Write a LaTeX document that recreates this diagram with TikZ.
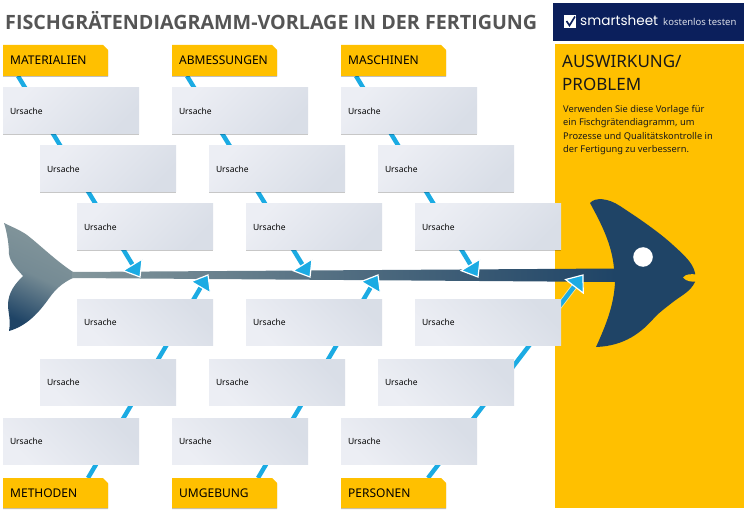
\documentclass[tikz,border=0pt]{standalone}
\usepackage{fontspec}
\setmainfont{Noto Sans}
\newfontfamily\logofont{Poppins}
\newfontfamily\titlefont{Open Sans}
\usetikzlibrary{arrows.meta,shadows,calc}
\definecolor{gold}{HTML}{FFC000}
\definecolor{navy}{HTML}{0B1F5C}
\definecolor{fishblue}{HTML}{1F4466}
\definecolor{tailgrey}{HTML}{84979C}
\definecolor{bonecol}{HTML}{1BABE3}
\definecolor{boxlight}{HTML}{ECEEF4}
\definecolor{boxdark}{HTML}{D9DEE7}
\definecolor{titlegrey}{HTML}{555555}
\tikzset{
  px/.style={x=1pt,y=-1pt},
  causebox/.style={minimum width=136pt,minimum height=46pt,inner sep=0pt,inner xsep=7pt,
    text width=122pt,align=left,font=\fontsize{8.5}{11}\selectfont,text=black,
    drop shadow={shadow xshift=0pt,shadow yshift=-1.2pt,fill=black,opacity=.22}},
  causewide/.style={causebox,minimum width=146pt,text width=132pt},
  boxtop/.style={top color=boxlight,bottom color=boxdark,shading angle=45},
  boxbot/.style={top color=boxdark,bottom color=boxlight,shading angle=-45},
  heading/.style={font=\fontsize{12}{14}\selectfont,text=black,anchor=base west,inner sep=0pt},
  tab/.style={fill=gold,drop shadow={shadow xshift=0pt,shadow yshift=-1pt,fill=black,opacity=.25}},
  bonehalo/.style={draw=white,line width=6pt,opacity=.6},
  bone/.style={draw=bonecol,line width=4.4pt},
  bonetip/.style={fill=bonecol,draw=white,line width=1.2pt,line join=miter},
}
\begin{document}
\begin{tikzpicture}[px]
\useasboundingbox (0,0) rectangle (746,510);
\fill[white] (0,0) rectangle (746,510);
% title
\node[anchor=base west,inner sep=0pt,font=\titlefont\fontsize{19.7}{22}\selectfont\bfseries,text=titlegrey] (title) at (5,30) {FISCHGRÄTENDIAGRAMM-VORLAGE IN DER FERTIGUNG};
% logo banner
\fill[navy] (553,3) rectangle (744,41);
\fill[white] (564,15) rectangle (576,28);
\draw[navy,line width=1.6pt] (566.5,21) -- (569.5,25.5) -- (575,16.5);
\node[anchor=base west,inner sep=0pt,font=\logofont\fontsize{13.6}{16}\selectfont,text=white] (brand) at (580,26) {smartsheet};
\node[anchor=base west,inner sep=0pt,font=\fontsize{9.5}{10}\selectfont,text=white!85!navy] (trial) at (663,26) {kostenlos testen};
% effect panel
\fill[gold] (555,44) rectangle (744,508);
\node[anchor=north west,inner sep=0pt,font=\fontsize{17}{23.5}\selectfont,align=left,text=black!90] (effect) at (562,54.5) {AUSWIRKUNG/\\PROBLEM};
\node[anchor=north west,inner sep=0pt,font=\fontsize{9.3}{13.1}\selectfont,align=left,text=black!90] (desc) at (563,105.5) {Verwenden Sie diese Vorlage für\\ein Fischgrätendiagramm, um\\Prozesse und Qualitätskontrolle in\\der Fertigung zu verbessern.};
% tail
\path[top color=tailgrey,bottom color=fishblue,shading angle=-25,middle color=tailgrey!85!fishblue]
  (4,223) .. controls (12,227) and (20,230) .. (27,235)
  .. controls (40,245) and (55,260) .. (73,272) -- (73,278)
  .. controls (62,283) and (55,290) .. (50,297)
  .. controls (42,308) and (30,325) .. (9,331)
  .. controls (11,320) and (8,312) .. (8,305)
  .. controls (8,292) and (16,283) .. (23,276)
  .. controls (16,268) and (10,262) .. (9,254)
  .. controls (9,245) and (7,232) .. (4,223) -- cycle;
% spine
\path[left color=tailgrey,right color=fishblue] (72,272) -- (615,268.5) -- (615,282) -- (72,278) -- cycle;
% head
\fill[fishblue] (590,203) .. controls (595,197) and (608,198) .. (620,206)
  .. controls (640,219) and (660,233) .. (673,245)
  .. controls (684,255) and (693,263) .. (695,273)
  -- (695,282)
  .. controls (690,292) and (682,295) .. (673,302)
  .. controls (664,309) and (660,312) .. (655,317)
  .. controls (642,332) and (625,346) .. (596,347)
  .. controls (606,325) and (614,305) .. (615,282)
  -- (614,268.5)
  .. controls (612,245) and (602,225) .. (590,203) -- cycle;
\fill[white] (643,257) circle (9.8);
\fill[gold] (683,277.5) .. controls (686,273.5) and (692,274) .. (696,274.5) -- (696,281.5) .. controls (692,282) and (686,281.5) .. (683,277.5) -- cycle;
% bones
\foreach \n/\sx/\sy/\tx/\ty in {a/18/76/140/277,b/187/76/310/277,c/356/76/478/277,d/88/478/208/275,e/258/478/378/275,f/428/478/583/275}{
  \coordinate (s\n) at (\sx,\sy);
  \coordinate (t\n) at (\tx,\ty);
  \draw[bonehalo] (s\n) -- ($(t\n)!10pt!(s\n)$);
  \draw[bone] (s\n) -- ($(t\n)!10pt!(s\n)$);
  \draw[bonetip] (t\n) -- ($(t\n)!18pt!38:(s\n)$) -- ($(t\n)!18pt!-38:(s\n)$) -- cycle;
}
% top cause boxes
\foreach \n/\cx/\cy in {a1/71/111,a2/240/111,a3/409/111,b1/108/169,b2/277/169,b3/446/169,c1/145/227,c2/314/227}{
  \node[causebox,boxtop] (\n) at (\cx,\cy) {Ursache};
}
\node[causewide,boxtop] (c3) at (488,227) {Ursache};
% bottom cause boxes
\foreach \n/\cx/\cy in {d1/145,d2/314}{
  \node[causebox,boxbot] (\n) at (\cx,322) {Ursache};
}
\node[causewide,boxbot] (d3) at (488,322) {Ursache};
\foreach \n/\cx in {e1/108,e2/277,e3/446}{
  \node[causebox,boxbot] (\n) at (\cx,382) {Ursache};
}
\foreach \n/\cx in {f1/71,f2/240,f3/409}{
  \node[causebox,boxbot] (\n) at (\cx,441) {Ursache};
}
% category tabs
\foreach \n/\x/\label in {ha/3/MATERIALIEN,hb/172/ABMESSUNGEN,hc/341/MASCHINEN}{
  \fill[tab] (\x,45) -- ++(100,0) -- ++(5,5) -- ++(0,26) -- ++(-105,0) -- cycle;
  \node[heading] (\n) at ([xshift=7pt]\x,65) {\label};
}
\foreach \n/\x/\label in {hd/3/METHODEN,he/172/UMGEBUNG,hf/341/PERSONEN}{
  \fill[tab] (\x,478) -- ++(100,0) -- ++(5,5) -- ++(0,25) -- ++(-105,0) -- cycle;
  \node[heading] (\n) at ([xshift=7pt]\x,497.5) {\label};
}
\end{tikzpicture}
\end{document}
